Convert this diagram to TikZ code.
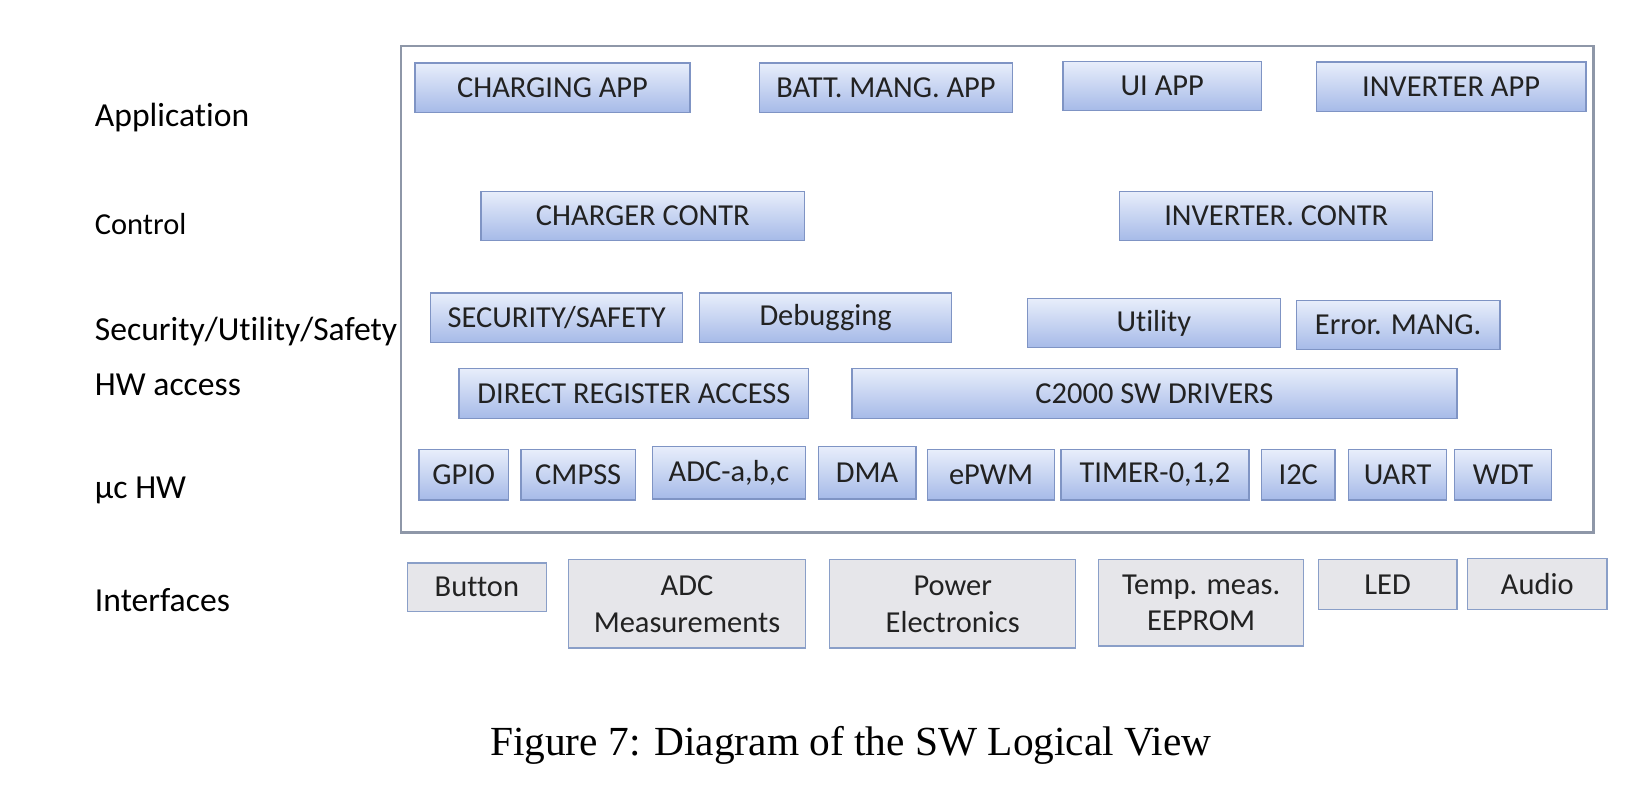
\documentclass[tikz,border=0pt]{standalone}
\usepackage{fontspec}
\setmainfont{Carlito}[Ligatures=NoCommon]
\newfontfamily\captionfont{Liberation Serif}
\usetikzlibrary{positioning}

\definecolor{boxtop}{HTML}{E8EEFB}
\definecolor{boxbot}{HTML}{A6BAE8}
\definecolor{boxline}{HTML}{7F94C4}
\definecolor{ifill}{HTML}{E6E6EA}
\definecolor{iline}{HTML}{8A9FC8}
\definecolor{frameline}{HTML}{8E97A8}
\definecolor{boxtext}{HTML}{222222}

\begin{document}
\begin{tikzpicture}[x=0.5pt,y=-0.5pt,
		swbox/.style={draw=boxline, line width=0.6pt, top color=boxtop, bottom color=boxbot,
			text=boxtext, font=\fontsize{14.5}{16}\selectfont, inner sep=0pt,
			minimum height=23.5pt},
		ifbox/.style={draw=iline, line width=0.6pt, fill=ifill, text=boxtext,
			font=\fontsize{14.5}{17.5}\selectfont, align=center, inner sep=0pt,
			minimum height=23.5pt},
		layer/.style={anchor=west, font=\fontsize{16}{18}\selectfont, inner sep=0pt}]
	\useasboundingbox (0,0) rectangle (1568,770);

	% layer names
	\node[layer] (lapp) at (90,112) {Application};
	\node[layer, font=\fontsize{14.5}{16}\selectfont] (lctrl) at (90,213) {Control};
	\node[layer] (lsec) at (90,316) {Security/Utility/Safety};
	\node[layer] (lhw) at (90,366) {HW access};
	\node[layer] (lmc) at (90,467) {µc HW};
	\node[layer] (lif) at (90,571) {Interfaces};

	% software frame
	\draw[frameline, line width=1pt] (382,44) rectangle (1517,507);

	% application
	\node[swbox, minimum width=131pt] (chargeapp) at (526,83.5) {CHARGING APP};
	\node[swbox, minimum width=120.5pt] (battapp) at (843.5,83.5) {BATT. MANG. APP};
	\node[swbox, minimum width=94.5pt] (uiapp) at (1106.5,82) {UI APP};
	\node[swbox, minimum width=128.5pt] (invapp) at (1381.5,82.5) {INVERTER APP};

	% control
	\node[swbox, minimum width=154pt] (chargectrl) at (612,205.5) {CHARGER CONTR};
	\node[swbox, minimum width=149pt] (invctrl) at (1215,205.5) {INVERTER. CONTR};

	% security / utility / safety
	\node[swbox, minimum width=120pt] (security) at (530,302.5) {SECURITY/SAFETY};
	\node[swbox, minimum width=120pt] (debug) at (786,302.5) {Debugging};
	\node[swbox, minimum width=120.5pt] (utility) at (1098.5,307.5) {Utility};
	\node[swbox, minimum width=97pt] (errmang) at (1331,309.5) {Error. MANG.};

	% hw access
	\node[swbox, minimum width=166.5pt, minimum height=24pt] (directreg) at (603.5,374.5) {DIRECT REGISTER ACCESS};
	\node[swbox, minimum width=288pt, minimum height=24pt] (drivers) at (1099,374.5) {C2000 SW DRIVERS};

	% uc hw
	\node[swbox, minimum width=42.5pt, minimum height=24pt] (gpio) at (441.5,452) {GPIO};
	\node[swbox, minimum width=54.5pt, minimum height=24pt] (cmpss) at (550.5,452) {CMPSS};
	\node[swbox, minimum width=73pt, minimum height=25pt] (adc) at (694,450) {ADC-a,b,c};
	\node[swbox, minimum width=46.5pt, minimum height=25pt] (dma) at (825.5,450) {DMA};
	\node[swbox, minimum width=60.5pt, minimum height=24pt] (epwm) at (943.5,452) {ePWM};
	\node[swbox, minimum width=89.5pt, minimum height=24pt] (timer) at (1099.5,452) {TIMER-0,1,2};
	\node[swbox, minimum width=35pt, minimum height=24pt] (itwoc) at (1236,452) {I2C};
	\node[swbox, minimum width=46.5pt, minimum height=24pt] (uart) at (1330.5,452) {UART};
	\node[swbox, minimum width=46pt, minimum height=24pt] (wdt) at (1431,452) {WDT};

	% interfaces
	\node[ifbox, minimum width=66pt, minimum height=23pt] (button) at (454,559) {Button};
	\node[ifbox, minimum width=113pt, minimum height=42pt] (adcmeas) at (654,575) {ADC\\Measurements};
	\node[ifbox, minimum width=117pt, minimum height=42pt] (power) at (907,575) {Power\\Electronics};
	\node[ifbox, minimum width=97.5pt, minimum height=41pt] (temp) at (1143.5,574) {Temp. meas.\\EEPROM};
	\node[ifbox, minimum width=66pt] (led) at (1321,556.5) {LED};
	\node[ifbox, minimum width=66.5pt, minimum height=24pt] (audio) at (1463.5,556) {Audio};

	% caption
	\node[font=\captionfont\fontsize{19.7}{22}\selectfont] (caption) at (810,710) {Figure 7: Diagram of the SW Logical View};
\end{tikzpicture}
\end{document}
